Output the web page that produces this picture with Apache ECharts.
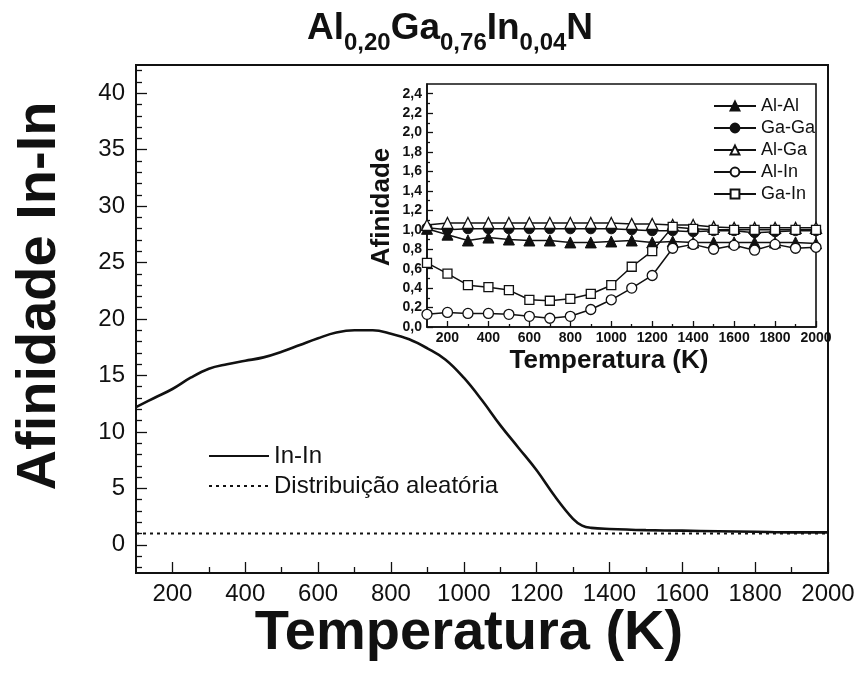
<!DOCTYPE html>
<html>
<head>
<meta charset="utf-8">
<script src="https://cdn.jsdelivr.net/npm/echarts@6/dist/echarts.min.js"></script>
<style>html,body{margin:0;padding:0;background:#fff}#c{width:858px;height:674px}</style>
</head>
<body>
<div id="c"></div>
<script>
// ---- main chart data (In-In affinity) ----
const mainTemps = [100,150,200,250,300,350,400,450,500,550,600,650,700,750,800,850,900,950,1000,1050,1100,1150,1200,1250,1300,1325,1350,1400,1500,1600,1700,1800,1900,2000];
const inInValues = [12.2,13.0,13.8,14.8,15.6,16.0,16.3,16.6,17.1,17.7,18.3,18.8,19.0,19.0,18.7,18.2,17.4,16.4,14.8,12.8,10.6,8.6,6.6,4.3,2.3,1.7,1.5,1.4,1.3,1.25,1.2,1.15,1.1,1.1];
const randomTemps = [100,2000];
const randomValues = [1,1];

// ---- inset data ----
const insetTemps = [100,200,300,400,500,600,700,800,900,1000,1100,1200,1300,1400,1500,1600,1700,1800,1900,2000];
const alAl = [1.01,0.95,0.89,0.92,0.90,0.89,0.89,0.87,0.87,0.88,0.89,0.87,0.88,0.87,0.87,0.87,0.87,0.87,0.87,0.86];
const gaGa = [1.02,1.00,1.01,1.01,1.01,1.01,1.01,1.01,1.01,1.01,1.00,0.99,0.99,0.98,0.99,0.99,0.97,0.98,0.99,0.99];
const alGa = [1.05,1.07,1.07,1.07,1.07,1.07,1.07,1.07,1.07,1.07,1.06,1.06,1.05,1.05,1.03,1.02,1.02,1.02,1.02,1.02];
const alIn = [0.13,0.15,0.14,0.14,0.13,0.11,0.09,0.11,0.18,0.28,0.40,0.53,0.81,0.85,0.80,0.84,0.79,0.85,0.81,0.82];
const gaIn = [0.66,0.55,0.43,0.41,0.38,0.28,0.27,0.29,0.34,0.43,0.62,0.78,1.03,1.01,1.00,1.00,1.00,1.00,1.00,1.00];

// ---- tick values ----
const mainXMajor = [200,400,600,800,1000,1200,1400,1600,1800,2000];
const mainXMinor = [300,500,700,900,1100,1300,1500,1700,1900];
const mainYMajor = [0,5,10,15,20,25,30,35,40];
const mainYMinor = [-2,-1,1,2,3,4,6,7,8,9,11,12,13,14,16,17,18,19,21,22,23,24,26,27,28,29,31,32,33,34,36,37,38,39,41,42];
const insetYMajor = [0,0.2,0.4,0.6,0.8,1.0,1.2,1.4,1.6,1.8,2.0,2.2,2.4];
const insetYMinor = [0.1,0.3,0.5,0.7,0.9,1.1,1.3,1.5,1.7,1.9,2.1,2.3];

const FONT = '"Liberation Sans", Arial, Helvetica, sans-serif';
const INK = '#111';

function pairs(xs, ys){ return xs.map((x,i)=>[x, ys[i]]); }

const chart = echarts.init(document.getElementById('c'), null, {renderer:'canvas'});

const plain = v => String(v);
const comma = v => v.toFixed(1).replace('.', ',');

function ax(pos, grid, min, max, ticks, len, labels, lbl, lineW){
  const a = {
    type:'value', gridIndex:grid, min:min, max:max, position:pos,
    axisLine:{show:labels, onZero:false, lineStyle:{color:INK, width:lineW}},
    axisTick:{show:true, inside:true, length:len, customValues:ticks, lineStyle:{color:INK, width:1.3}},
    axisLabel:{show:false},
    splitLine:{show:false}
  };
  if (labels) a.axisLabel = Object.assign({show:true, customValues:ticks, color:INK, fontFamily:FONT, formatter:plain}, lbl);
  return a;
}

const lineBase = {type:'line', animation:false, lineStyle:{color:INK, width:1.5}, xAxisIndex:2, yAxisIndex:2};

const option = {
  animation:false,
  backgroundColor:'#fff',
  grid:[
    {left:136, top:65, width:692, height:508, show:true, borderColor:INK, borderWidth:2, backgroundColor:'transparent'},
    {left:427, top:84, width:389, height:243, show:true, borderColor:INK, borderWidth:1.6, backgroundColor:'transparent'}
  ],
  xAxis:[
    ax('bottom',0,100,2000,mainXMajor,11,true,{fontSize:24, margin:9},2),
    ax('bottom',0,100,2000,mainXMinor,6,false,null,2),
    ax('bottom',1,100,2000,mainXMajor,6,true,{fontSize:14, fontWeight:'bold', margin:4},1.6),
    ax('bottom',1,100,2000,mainXMinor,3,false,null,1.6)
  ],
  yAxis:[
    ax('left',0,-2.5,42.5,mainYMajor,11,true,{fontSize:24, margin:11},2),
    ax('left',0,-2.5,42.5,mainYMinor,6,false,null,2),
    ax('left',1,0,2.5,insetYMajor,6,true,{fontSize:14, fontWeight:'bold', margin:5, formatter:comma},1.6),
    ax('left',1,0,2.5,insetYMinor,3,false,null,1.6)
  ],
  legend:[
    {orient:'vertical', left:203, top:439, itemWidth:60, itemHeight:14, itemGap:6,
     itemStyle:{opacity:0},
     data:['In-In','Distribuição aleatória'],
     textStyle:{fontSize:24, color:INK, fontFamily:FONT}},
    {orient:'vertical', left:708, top:92, itemWidth:42, itemHeight:11, itemGap:4,
     data:['Al-Al','Ga-Ga','Al-Ga','Al-In','Ga-In'],
     textStyle:{fontSize:18, color:INK, fontFamily:FONT}}
  ],
  graphic:[
    {type:'text', x:450, y:3, style:{
      text:'{a|Al}{s|0,20}{a|Ga}{s|0,76}{a|In}{s|0,04}{a|N}',
      align:'center',
      rich:{
        a:{fontSize:37, fontWeight:'bold', fontFamily:FONT, fill:INK, lineHeight:52, verticalAlign:'middle'},
        s:{fontSize:24, fontWeight:'bold', fontFamily:FONT, fill:INK, lineHeight:12, verticalAlign:'bottom'}
      }
    }},
    {type:'text', x:469, y:634, style:{text:'Temperatura (K)', fontSize:56, fontWeight:'bold', fontFamily:FONT, fill:INK, align:'center', verticalAlign:'middle'}},
    {type:'text', x:40, y:296, rotation:Math.PI/2, style:{text:'Afinidade In-In', fontSize:56, fontWeight:'bold', fontFamily:FONT, fill:INK, align:'center', verticalAlign:'middle'}},
    {type:'text', x:609, y:361, style:{text:'Temperatura (K)', fontSize:26, fontWeight:'bold', fontFamily:FONT, fill:INK, align:'center', verticalAlign:'middle'}},
    {type:'text', x:382, y:207, rotation:Math.PI/2, style:{text:'Afinidade', fontSize:26, fontWeight:'bold', fontFamily:FONT, fill:INK, align:'center', verticalAlign:'middle'}}
  ],
  series:[
    {name:'In-In', type:'line', xAxisIndex:0, yAxisIndex:0, data:pairs(mainTemps, inInValues), showSymbol:false, symbol:'none',
     smooth:0.4, lineStyle:{color:INK, width:2.6}, itemStyle:{color:INK}},
    {name:'Distribuição aleatória', type:'line', xAxisIndex:0, yAxisIndex:0, data:pairs(randomTemps, randomValues), showSymbol:false, symbol:'none',
     lineStyle:{color:INK, width:2, type:[3,4]}, itemStyle:{color:INK}},
    Object.assign({}, lineBase, {name:'Al-Al', data:pairs(insetTemps, alAl), symbol:'triangle', symbolSize:11, itemStyle:{color:INK, borderColor:INK, borderWidth:1}}),
    Object.assign({}, lineBase, {name:'Ga-Ga', data:pairs(insetTemps, gaGa), symbol:'circle', symbolSize:10, itemStyle:{color:INK, borderColor:INK, borderWidth:1}}),
    Object.assign({}, lineBase, {name:'Al-Ga', data:pairs(insetTemps, alGa), symbol:'triangle', symbolSize:11, itemStyle:{color:'#fff', borderColor:INK, borderWidth:1.3}}),
    Object.assign({}, lineBase, {name:'Al-In', data:pairs(insetTemps, alIn), symbol:'circle', symbolSize:10, itemStyle:{color:'#fff', borderColor:INK, borderWidth:1.3}}),
    Object.assign({}, lineBase, {name:'Ga-In', data:pairs(insetTemps, gaIn), symbol:'rect', symbolSize:9, itemStyle:{color:'#fff', borderColor:INK, borderWidth:1.3}})
  ]
};
chart.setOption(option);
</script>
</body>
</html>
